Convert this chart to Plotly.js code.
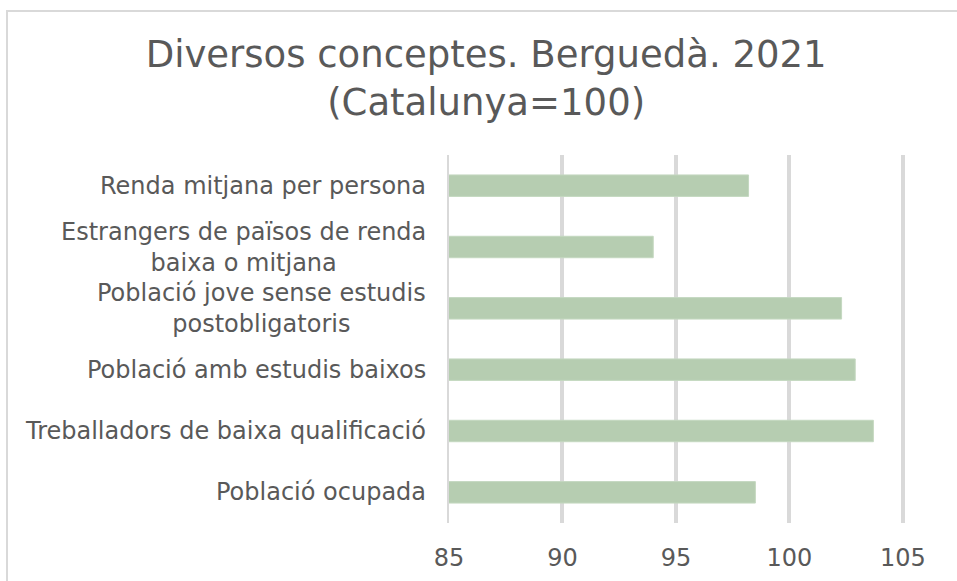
<!DOCTYPE html>
<html>
<head>
<meta charset="utf-8">
<script src="https://cdn.plot.ly/plotly-3.0.1.min.js"></script>
<style>
  html, body { margin: 0; padding: 0; background: #ffffff; }
  #chart { width: 957px; height: 581px; position: absolute; left: 0; top: 0; }
  #frame { position: absolute; left: 6px; top: 10px; width: 1000px; height: 1000px;
           border: 2px solid #d9d9d9; pointer-events: none; }
</style>
</head>
<body>
<div id="chart"></div>
<div id="frame"></div>
<script>
// Data (top-to-bottom order as shown)
const categories = [
  "Renda mitjana per persona",
  "Estrangers de països de renda<br>baixa o mitjana",
  "Població jove sense estudis<br>postobligatoris",
  "Població amb estudis baixos",
  "Treballadors de baixa qualificació",
  "Població ocupada"
];
const values = [98.2, 94.0, 102.3, 102.9, 103.7, 98.5];
const tickValues = [85, 90, 95, 100, 105];
const tickLabels = ["85", "90", "95", "100", "105"];
const titleText = "Diversos conceptes. Berguedà. 2021<br>(Catalunya=100)";

const textColor = "#595959";
const fontFamily = "DejaVu Sans, Verdana, sans-serif";

const trace = {
  type: "bar",
  orientation: "h",
  x: values,
  y: categories,
  marker: { color: "#b6cdb1", line: { color: "#c4d8c0", width: 1 } },
  hoverinfo: "skip"
};

const annotations = categories.map(c => ({
  xref: "paper", yref: "y",
  x: 0, y: c,
  xanchor: "right", yanchor: "middle",
  xshift: -21,
  text: c, showarrow: false, align: "center",
  font: { family: fontFamily, size: 24, color: textColor }
}));

const layout = {
  width: 957, height: 581,
  margin: { l: 449, r: 53, t: 155, b: 58 },
  paper_bgcolor: "rgba(0,0,0,0)",
  plot_bgcolor: "rgba(0,0,0,0)",
  showlegend: false,
  bargap: 0.65,
  title: {
    text: titleText,
    font: { family: fontFamily, size: 37, color: textColor },
    x: 0.508, xref: "container", xanchor: "center",
    y: 0.885, yref: "container", yanchor: "top"
  },
  xaxis: {
    range: [85, 105.05],
    tickmode: "array", tickvals: tickValues, ticktext: tickLabels,
    showgrid: true, gridcolor: "#d9d9d9", gridwidth: 4,
    zeroline: false, showline: false, ticks: "",
    ticklabelstandoff: 18,
    tickfont: { family: fontFamily, size: 24, color: textColor },
    fixedrange: true
  },
  yaxis: {
    autorange: "reversed",
    showticklabels: false, ticks: "",
    showgrid: false, zeroline: false,
    showline: true, linecolor: "#d9d9d9", linewidth: 2,
    fixedrange: true
  },
  annotations: annotations
};

Plotly.newPlot("chart", [trace], layout, { displayModeBar: false, staticPlot: true });
</script>
</body>
</html>
